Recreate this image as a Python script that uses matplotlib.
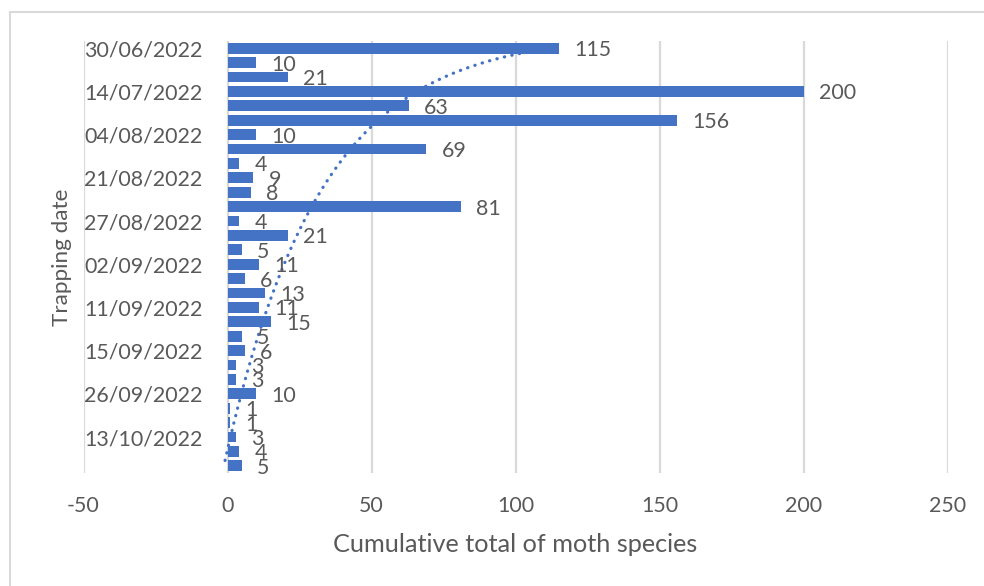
import numpy as np
import matplotlib.pyplot as plt
from matplotlib.patches import Rectangle

# Species counted per trapping night (top to bottom in trapping order)
species_counts = [115, 10, 21, 200, 63, 156, 10, 69, 4, 9, 8, 81, 4, 21, 5,
                  11, 6, 13, 11, 15, 5, 6, 3, 3, 10, 1, 1, 3, 4, 5]
# Every third trapping date is labelled on the category axis
tick_labels = ["30/06/2022", "14/07/2022", "04/08/2022", "21/08/2022",
               "27/08/2022", "02/09/2022", "11/09/2022", "15/09/2022",
               "26/09/2022", "13/10/2022"]
x_ticks = [-50, 0, 50, 100, 150, 200, 250]

BAR = "#4472C4"
TEXT = "#595959"
GRID = "#D9D9D9"
FONT = "Lato"
FS = 15.4

plt.rcParams["font.family"] = [FONT, "DejaVu Sans"]

fig = plt.figure(figsize=(9.84, 5.86), dpi=100)
ax = fig.add_axes([83.5 / 984, 1 - 473 / 586, 864 / 984, 432 / 586])

pos = np.arange(len(species_counts))
ax.barh(pos, species_counts, height=0.76, color=BAR, zorder=3)

# Logarithmic trendline over the category index (1..n)
xi = pos + 1
a, b = np.polyfit(np.log(xi), species_counts, 1)
xs = np.linspace(1, len(species_counts), 400)
ax.plot(a * np.log(xs) + b, xs - 1, color=BAR, lw=2.3,
        linestyle=(0, (0.1, 2.3)), dash_capstyle="round", zorder=2)

for i, v in enumerate(species_counts):
    ax.annotate(str(v), xy=(v, i), xytext=(11.0, -1.5), textcoords="offset points",
                ha="left", va="center", fontsize=FS, color=TEXT, zorder=4)

ax.set_xlim(-50, 250)
ax.set_ylim(len(species_counts) - 0.5, -0.5)
ax.set_xticks(x_ticks)
ax.set_xticklabels([str(t) for t in x_ticks], fontsize=FS, color=TEXT)
ax.set_yticks(pos[::3])
ax.set_yticklabels(tick_labels, fontsize=FS, color=TEXT)
for lab in ax.get_yticklabels():
    lab.set_horizontalalignment("left")
ax.tick_params(axis="y", length=0, pad=-0.3)
ax.tick_params(axis="x", length=0, pad=16.5)
ax.grid(axis="x", color=GRID, lw=1.6, zorder=0)
ax.set_axisbelow(True)
for s in ax.spines.values():
    s.set_visible(False)

fig.text(515 / 984, 1 - 545 / 586, "Cumulative total of moth species",
         ha="center", va="center", fontsize=18.2, color=TEXT)
fig.text(62 / 984, 1 - 257 / 586, "Trapping date", rotation=90,
         ha="center", va="center", fontsize=16.2, color=TEXT)

# Chart frame
fig.patches.append(Rectangle((10 / 984, -0.2), 1.5, 1.2 - 12 / 586,
                             transform=fig.transFigure, fill=False,
                             edgecolor=GRID, lw=1.5))

fig.savefig("out.png", dpi=100)
